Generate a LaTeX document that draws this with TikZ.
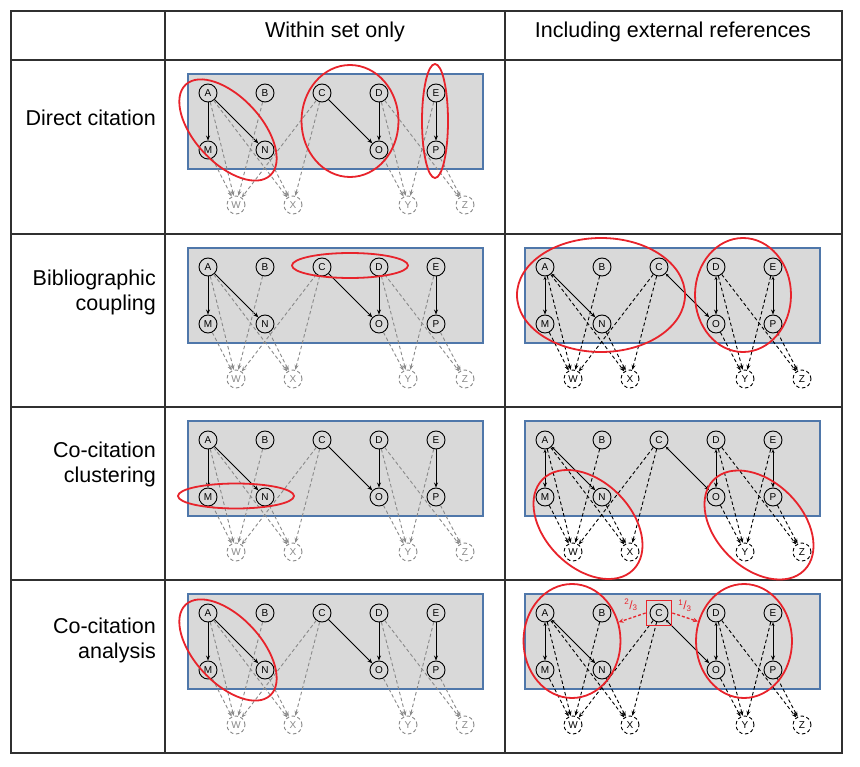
\documentclass[tikz,border=0pt]{standalone}
\usepackage{fontspec}
\setmainfont{Liberation Sans}
\usetikzlibrary{arrows.meta,shapes.geometric}

\definecolor{setgray}{HTML}{D9D9D9}
\definecolor{setblue}{HTML}{4F77AA}
\definecolor{refgray}{HTML}{8A8A8A}
\definecolor{clusterred}{HTML}{E8232B}
\definecolor{rulegray}{HTML}{303030}

\newcommand{\bigfont}{\fontsize{21.5}{25}\selectfont}

\tikzset{
  pub/.style={circle, draw, line width=0.9pt, minimum size=18pt, inner sep=0pt, font=\fontsize{10}{10}\selectfont},
  setbox/.style={fill=setgray, draw=setblue, line width=1.1pt},
  cluster/.style={ellipse, draw=clusterred, line width=1.8pt, inner sep=0pt},
  refdash/.style={dash pattern=on 3.5pt off 2.5pt},
  cite/.style={line width=0.9pt, -{Stealth[length=5pt,width=4pt]}},
  within/.style={
    extpub/.style={pub, refdash, draw=refgray, text=refgray},
    extcite/.style={line width=0.9pt, refdash, draw=refgray, -{Stealth[length=5pt,width=4pt]}}},
  including/.style={
    extpub/.style={pub, refdash},
    extcite/.style={line width=0.9pt, refdash, -{Stealth[length=5pt,width=4pt]}},
    cite/.style={line width=0.9pt, {Stealth[length=3.5pt,width=3pt]}-{Stealth[length=5pt,width=4pt]}}},
  share/.style={draw=clusterred, line width=1.3pt, dash pattern=on 3pt off 2pt, -{Stealth[length=5pt,width=4.5pt]}},
  sharelabel/.style={text=clusterred, font=\fontsize{12}{12}\selectfont, inner sep=0pt},
  rowlabel/.style={anchor=east, align=right, font=\bigfont, inner sep=0pt},
  head/.style={font=\bigfont, inner sep=0pt},
  rule/.style={draw=rulegray, line width=1.5pt}
}

% one set of publications: box origin at the scope's shift
\newcommand{\citenet}{
  \draw[setbox] (0,0) rectangle (295,95);
  \foreach \n/\x in {A/20,B/77,C/134,D/191,E/248}
    \node[pub] (\n) at (\x,19) {\n};
  \foreach \n/\x in {M/20,N/77,O/191,P/248}
    \node[pub] (\n) at (\x,76) {\n};
  \foreach \n/\x in {W/48,X/105,Y/220,Z/277}
    \node[extpub] (\n) at (\x,131) {\n};
  \foreach \a/\b in {A/M,A/N,C/O,D/O,E/P}
    \draw[cite] (\a) to (\b);
  \foreach \a/\b in {A/W,A/X,M/W,B/W,C/W,C/X,N/X,D/Y,O/Y,E/Y,D/Z,P/Z}
    \draw[extcite] (\a) to (\b);
}

\begin{document}
\begin{tikzpicture}[x=1pt, y=-1pt]
\path[fill=white, use as bounding box] (0,0) rectangle (860,767);

% table
\draw[rule] (11,11) rectangle (842,753);
\draw[rule] (165,11) to (165,753);
\draw[rule] (505,11) to (505,753);
\foreach \y in {60,234,407,580}
  \draw[rule] (11,\y) to (842,\y);

\node[head] (within) at (335,32) {Within set only};
\node[head] (incl) at (673,32) {Including external references};

\node[rowlabel] (dc) at (156,118) {Direct citation};
\node[rowlabel] (bc) at (156,292) {Bibliographic\\coupling};
\node[rowlabel] (cc) at (156,464) {Co-citation\\clustering};
\node[rowlabel] (ca) at (156,640) {Co-citation\\analysis};

% networks
\begin{scope}[shift={(188,74)}, name prefix=dc-in-, within] \citenet \end{scope}
\begin{scope}[shift={(188,248)}, name prefix=bc-in-, within] \citenet \end{scope}
\begin{scope}[shift={(525,248)}, name prefix=bc-ex-, including] \citenet \end{scope}
\begin{scope}[shift={(188,421)}, name prefix=cc-in-, within] \citenet \end{scope}
\begin{scope}[shift={(525,421)}, name prefix=cc-ex-, including] \citenet \end{scope}
\begin{scope}[shift={(188,594)}, name prefix=ca-in-, within] \citenet \end{scope}
\begin{scope}[shift={(525,594)}, name prefix=ca-ex-, including] \citenet \end{scope}

% clusters
\node[cluster, minimum width=124pt, minimum height=66pt, rotate=-47] (dc-g1) at (228,130) {};
\node[cluster, minimum width=97pt, minimum height=112pt] (dc-g2) at (350,121) {};
\node[cluster, minimum width=26pt, minimum height=114pt] (dc-g3) at (435,121) {};

\node[cluster, minimum width=116pt, minimum height=25pt] (bc-g1) at (350,265.5) {};
\node[cluster, minimum width=168pt, minimum height=114pt] (bc-g2) at (601,295) {};
\node[cluster, minimum width=96pt, minimum height=114pt] (bc-g3) at (743,295) {};

\node[cluster, minimum width=116pt, minimum height=25pt] (cc-g1) at (236,496) {};
\node[cluster, minimum width=128pt, minimum height=86pt, rotate=-45] (cc-g2) at (588,524.5) {};
\node[cluster, minimum width=128pt, minimum height=86pt, rotate=-45] (cc-g3) at (759,525) {};

\node[cluster, minimum width=124pt, minimum height=66pt, rotate=-47] (ca-g1) at (228,650) {};
\node[cluster, minimum width=97pt, minimum height=114pt] (ca-g2) at (572,641) {};
\node[cluster, minimum width=96pt, minimum height=114pt] (ca-g3) at (744,641) {};

% shares of C
\node[draw=clusterred, line width=1.8pt, minimum size=25pt, inner sep=0pt] (pick) at (ca-ex-C) {};
\draw[share] (pick.west) to (ca-g2.22);
\draw[share] (pick.east) to (ca-g3.157);
\node[sharelabel] (two) at (631,605) {\textsuperscript{2}/\textsubscript{3}};
\node[sharelabel] (one) at (685,606) {\textsuperscript{1}/\textsubscript{3}};
\end{tikzpicture}
\end{document}
